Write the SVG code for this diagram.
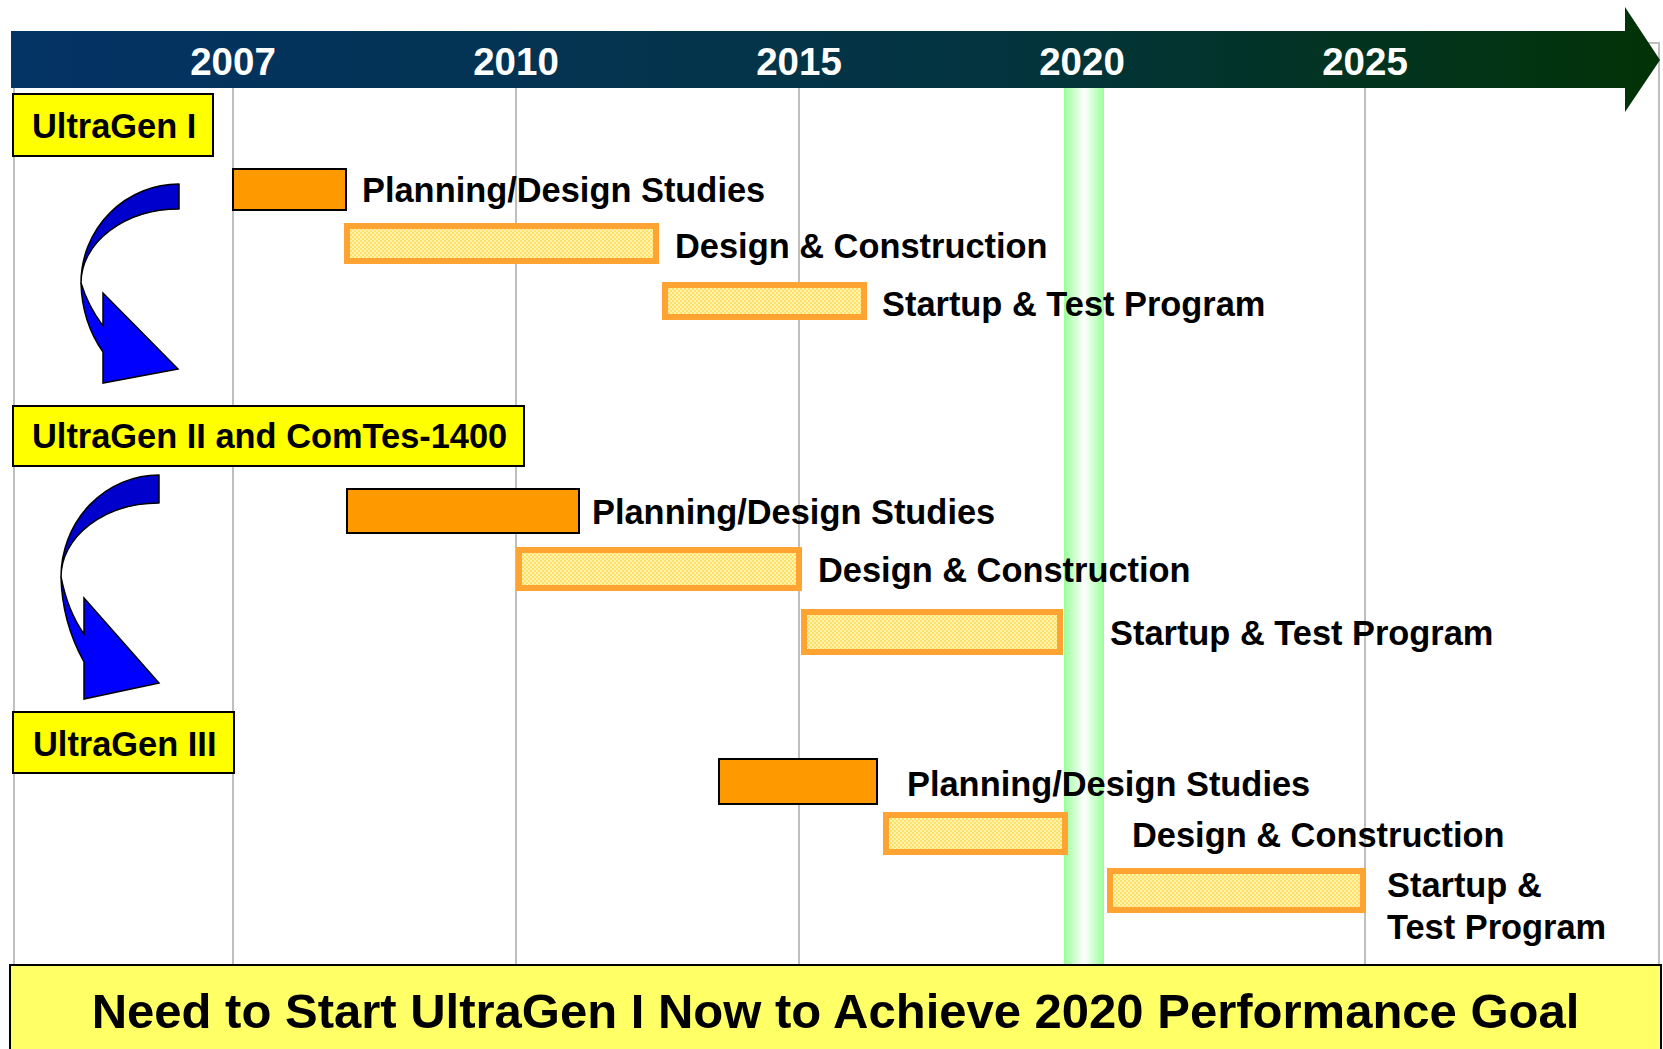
<svg xmlns="http://www.w3.org/2000/svg" width="1663" height="1049" viewBox="0 0 1663 1049">
  <style>
    .t { font-family: "Liberation Sans", Arial, sans-serif; font-weight: bold; }
    .year { font-size: 38.5px; fill: #ffffff; text-anchor: middle; }
    .lbl { font-size: 34.4px; fill: #000000; }
    .stage { fill: #ffff00; stroke: #000000; stroke-width: 2; }
    .plan { fill: #ff9900; stroke: #000000; stroke-width: 2; }
    .build { fill: url(#dots); stroke: #ffa333; stroke-width: 6; }
    .grid { stroke: #bfbfbf; stroke-width: 2; fill: none; }
    .face { fill: #0000cc; stroke: #000000; stroke-width: 1.5; stroke-linejoin: round; }
    .back { fill: #0000ff; stroke: #000000; stroke-width: 1.5; stroke-linejoin: miter; }
  </style>
  <defs>
    <linearGradient id="barGrad" x1="0" y1="0" x2="1" y2="0">
      <stop offset="0" stop-color="#043366"/>
      <stop offset="0.6" stop-color="#03343f"/>
      <stop offset="1" stop-color="#023306"/>
    </linearGradient>
    <linearGradient id="glow" x1="0" y1="0" x2="1" y2="0">
      <stop offset="0" stop-color="#99ff99"/>
      <stop offset="0.5" stop-color="#ffffff"/>
      <stop offset="1" stop-color="#99ff99"/>
    </linearGradient>
    <pattern id="dots" width="4" height="4" patternUnits="userSpaceOnUse">
      <rect width="4" height="4" fill="#fff3b0"/>
      <rect width="2" height="2" fill="#ffe066"/>
      <rect x="2" y="2" width="2" height="2" fill="#ffe066"/>
    </pattern>
  </defs>

  <rect width="1663" height="1049" fill="#ffffff"/>

  <!-- chart frame and year gridlines -->
  <g id="grid">
    <rect class="grid" x="14" y="43" width="1645" height="922"/>
    <line class="grid" x1="233" y1="88" x2="233" y2="965"/>
    <line class="grid" x1="516" y1="88" x2="516" y2="965"/>
    <line class="grid" x1="799" y1="88" x2="799" y2="965"/>
    <line class="grid" x1="1365" y1="88" x2="1365" y2="965"/>
  </g>

  <!-- 2020 target band -->
  <g id="target-2020">
    <rect x="1064" y="88" width="40" height="877" fill="url(#glow)"/>
  </g>

  <!-- timeline arrow with year labels -->
  <g id="timeline">
    <path d="M11,31 L1625,31 L1625,7 L1660,60 L1625,112 L1625,88 L11,88 Z" fill="url(#barGrad)"/>
    <text class="t year" x="233" y="75">2007</text>
    <text class="t year" x="516" y="75">2010</text>
    <text class="t year" x="799" y="75">2015</text>
    <text class="t year" x="1082" y="75">2020</text>
    <text class="t year" x="1365" y="75">2025</text>
  </g>

  <!-- stage headers -->
  <g id="ultragen-1">
    <rect class="stage" x="13" y="94" width="200" height="62"/>
    <text class="t lbl" x="32" y="138">UltraGen I</text>
  </g>
  <g id="ultragen-2">
    <rect class="stage" x="13" y="406" width="511" height="60"/>
    <text class="t lbl" x="32" y="448">UltraGen II and ComTes-1400</text>
  </g>
  <g id="ultragen-3">
    <rect class="stage" x="13" y="712" width="221" height="61"/>
    <text class="t lbl" x="33" y="756">UltraGen III</text>
  </g>

  <!-- UltraGen I schedule -->
  <g id="g1-plan">
    <rect class="plan" x="233" y="169" width="113" height="41"/>
    <text class="t lbl" x="362" y="202">Planning/Design Studies</text>
  </g>
  <g id="g1-build">
    <rect class="build" x="347" y="226" width="309" height="35"/>
    <text class="t lbl" x="675" y="258">Design &amp; Construction</text>
  </g>
  <g id="g1-test">
    <rect class="build" x="665" y="285" width="199" height="32"/>
    <text class="t lbl" x="882" y="316">Startup &amp; Test Program</text>
  </g>

  <!-- UltraGen II schedule -->
  <g id="g2-plan">
    <rect class="plan" x="347" y="489" width="232" height="44"/>
    <text class="t lbl" x="592" y="524">Planning/Design Studies</text>
  </g>
  <g id="g2-build">
    <rect class="build" x="519" y="550" width="280" height="38"/>
    <text class="t lbl" x="818" y="582">Design &amp; Construction</text>
  </g>
  <g id="g2-test">
    <rect class="build" x="804" y="612" width="256" height="40"/>
    <text class="t lbl" x="1110" y="645">Startup &amp; Test Program</text>
  </g>

  <!-- UltraGen III schedule -->
  <g id="g3-plan">
    <rect class="plan" x="719" y="759" width="158" height="45"/>
    <text class="t lbl" x="907" y="796">Planning/Design Studies</text>
  </g>
  <g id="g3-build">
    <rect class="build" x="886" y="815" width="179" height="37"/>
    <text class="t lbl" x="1132" y="847">Design &amp; Construction</text>
  </g>
  <g id="g3-test">
    <rect class="build" x="1110" y="871" width="253" height="39"/>
    <text class="t lbl" x="1387" y="897">Startup &amp;</text>
    <text class="t lbl" x="1387" y="939">Test Program</text>
  </g>

  <!-- curved arrows linking the stages -->
  <g id="connectors">
    <g id="arrow-1-2">
      <path class="face" d="M179,184 A98,99 0 0 0 81,283 A98,74 0 0 1 179,209 Z"/>
      <path class="back" d="M81,283 Q88,306 103,326 L103,293 L178,369 L103,383 L103,352 Q82,322 81,283 Z"/>
    </g>
    <g id="arrow-2-3">
      <path class="face" d="M159,475 A98,102 0 0 0 61,577 A98,74 0 0 1 159,503 Z"/>
      <path class="back" d="M61,577 Q68,612 84,634 L84,598 L159,683 L84,699 L84,662 Q62,622 61,577 Z"/>
    </g>
  </g>

  <!-- conclusion banner -->
  <g id="banner">
    <rect x="10" y="965" width="1651" height="90" fill="#ffff66" stroke="#000000" stroke-width="2"/>
    <text class="t" x="835.5" y="1028" font-size="49" text-anchor="middle" fill="#000000">Need to Start UltraGen I Now to Achieve 2020 Performance Goal</text>
  </g>
</svg>
